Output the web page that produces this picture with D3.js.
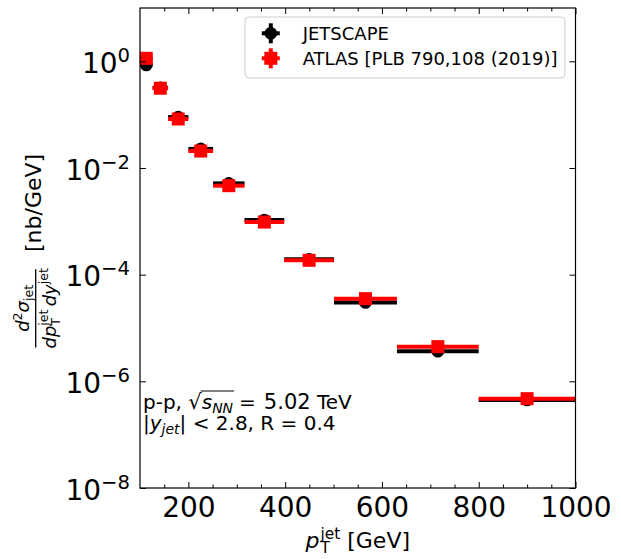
<!DOCTYPE html>
<html><head><meta charset="utf-8">
<script src="https://cdn.jsdelivr.net/npm/d3@7"></script>
<style>
html,body{margin:0;padding:0;background:#fff;}
svg{display:block;font-family:"DejaVu Sans",sans-serif;}
</style></head>
<body>
<svg id="chart" width="621" height="559"></svg>
<script>
// ---------- data ----------
const binLow  = [100, 126, 158, 200, 251, 316, 398, 501, 631, 800];
const binHigh = [126, 158, 200, 251, 316, 398, 501, 631, 800, 1000];
const xCenter = [113, 142, 179, 225.5, 283.5, 357, 449.5, 566, 715.5, 900];
const atlasY     = [1.14, 0.313, 0.083, 0.0208, 0.00466, 9.7e-4, 1.86e-4, 3.55e-5, 4.47e-6, 4.73e-7];
const jetscapeY  = [0.855, 0.32, 0.090, 0.0228, 0.00515, 1.06e-3, 1.94e-4, 3.0e-5, 3.66e-6, 4.47e-7];
const xMajorTicks = [200, 400, 600, 800, 1000];
const xMinorTicks = [150, 250, 300, 350, 450, 500, 550, 650, 700, 750, 850, 900, 950];
const yMajorTicks = [1, 1e-2, 1e-4, 1e-6, 1e-8];
const yTickExp = ["0", "\u22122", "\u22124", "\u22126", "\u22128"];
const legendLabels = ["JETSCAPE", "ATLAS [PLB 790,108 (2019)]"];

// ---------- layout ----------
const L = 140, R = 575.5, T = 8, B = 488;
const svg = d3.select("#chart");
const x = d3.scaleLinear().domain([100, 1000]).range([L, R]);
const y = d3.scaleLog().domain([1e-8, 10]).range([B, T]);

// plot data
const gData = svg.append("g");
function drawSeries(vals, color, shape) {
  gData.append("g").selectAll("line").data(vals).join("line")
    .attr("x1", (d, i) => x(binLow[i])).attr("x2", (d, i) => x(binHigh[i]))
    .attr("y1", d => y(d)).attr("y2", d => y(d))
    .attr("stroke", color).attr("stroke-width", 4);
  if (shape === "circle") {
    gData.append("g").selectAll("circle").data(vals).join("circle")
      .attr("cx", (d, i) => x(xCenter[i])).attr("cy", d => y(d)).attr("r", 6.3)
      .attr("fill", color);
  } else {
    gData.append("g").selectAll("rect").data(vals).join("rect")
      .attr("x", (d, i) => x(xCenter[i]) - 6.5).attr("y", d => y(d) - 6.5)
      .attr("width", 13).attr("height", 13).attr("fill", color);
  }
}
drawSeries(jetscapeY, "#000", "circle");
drawSeries(atlasY, "#ff0000", "square");

// axes ticks
function styleAxis(g) { g.select(".domain").remove(); g.selectAll("line").attr("stroke", "#000").attr("stroke-width", 1); }
const fontTick = 28;
svg.append("g").attr("transform", `translate(0,${B})`)
  .call(d3.axisBottom(x).tickValues(xMajorTicks).tickSizeInner(-6).tickSizeOuter(0).tickPadding(8.8).tickFormat(d3.format("d")))
  .call(styleAxis)
  .call(g => g.selectAll("text").attr("font-size", fontTick).attr("font-family", "DejaVu Sans").attr("fill", "#000"));
svg.append("g").attr("transform", `translate(0,${B})`)
  .call(d3.axisBottom(x).tickValues(xMinorTicks).tickSizeInner(-3.5).tickSizeOuter(0).tickFormat(""))
  .call(styleAxis);
svg.append("g").attr("transform", `translate(0,${T})`)
  .call(d3.axisTop(x).tickValues(xMajorTicks).tickSizeInner(-6).tickSizeOuter(0).tickFormat(""))
  .call(styleAxis);
svg.append("g").attr("transform", `translate(0,${T})`)
  .call(d3.axisTop(x).tickValues(xMinorTicks).tickSizeInner(-3.5).tickSizeOuter(0).tickFormat(""))
  .call(styleAxis);
svg.append("g").attr("transform", `translate(${L},0)`)
  .call(d3.axisLeft(y).tickValues(yMajorTicks).tickSizeInner(-6).tickSizeOuter(0).tickFormat(""))
  .call(styleAxis);
svg.append("g").attr("transform", `translate(${R},0)`)
  .call(d3.axisRight(y).tickValues(yMajorTicks).tickSizeInner(-6).tickSizeOuter(0).tickFormat(""))
  .call(styleAxis);

// y tick labels 10^n
yMajorTicks.forEach((v, i) => {
  const t = svg.append("text").attr("x", 130).attr("y", y(v) + 11.5)
    .attr("text-anchor", "end").attr("font-size", fontTick).attr("fill", "#000");
  t.append("tspan").text("10");
  t.append("tspan").attr("font-size", 19.6).attr("dy", -11).text(yTickExp[i]);
});

// frame
svg.append("rect").attr("x", L).attr("y", T).attr("width", R - L).attr("height", B - T)
  .attr("fill", "none").attr("stroke", "#000").attr("stroke-width", 1.2);

// ---------- math layout helper ----------
function layout(g, pieces) {
  let cur = 0, i = 0;
  const mk = p => g.append("text").attr("font-size", p.size).attr("font-style", p.it ? "italic" : "normal")
      .attr("y", p.dy || 0).attr("fill", "#000").text(p.t);
  while (i < pieces.length) {
    const p = pieces[i];
    const t = mk(p);
    const w = t.node().getComputedTextLength();
    t.attr("x", cur + (p.dx || 0));
    if (p.stack) {
      const p2 = pieces[i + 1];
      const t2 = mk(p2);
      const w2 = t2.node().getComputedTextLength();
      t2.attr("x", cur + (p2.dx || 0));
      cur += Math.max(w + (p.dx || 0), w2 + (p2.dx || 0));
      i += 2;
    } else {
      cur += w + (p.dx || 0) + (p.after || 0);
      i++;
    }
  }
  return cur;
}

// x label
{
  const g = svg.append("g");
  const w = layout(g, [
    {t: "p", size: 22, it: true},
    {t: "jet", size: 15.4, dy: -9, dx: 1, stack: true},
    {t: "T", size: 15.4, dy: 5, dx: 1},
    {t: "\u00a0[GeV]", size: 22}
  ]);
  g.attr("transform", `translate(${(L + R) / 2 - w / 2},548)`);
}

// y label (rotated fraction)
{
  const rot = svg.append("g").attr("transform", "rotate(-90)");
  const num = rot.append("g");
  const wn = layout(num, [
    {t: "d", size: 18, it: true},
    {t: "2", size: 12.6, dy: -7},
    {t: "σ", size: 18, it: true},
    {t: "jet", size: 12.6, dy: 4}
  ]);
  const den = rot.append("g");
  const wd = layout(den, [
    {t: "dp", size: 18, it: true},
    {t: "jet", size: 12.6, dy: -8, stack: true},
    {t: "T", size: 12.6, dy: 4},
    {t: "\u00a0", size: 10},
    {t: "dy", size: 18, it: true},
    {t: "jet", size: 12.6, dy: -8}
  ]);
  const cu = -308.3;
  num.attr("transform", `translate(${cu - wn / 2},29)`);
  den.attr("transform", `translate(${cu - wd / 2},56)`);
  rot.append("line").attr("x1", -347.5).attr("x2", -269.3).attr("y1", 35.7).attr("y2", 35.7)
    .attr("stroke", "#000").attr("stroke-width", 1.3);
  rot.append("text").attr("x", -252).attr("y", 40.5).attr("font-size", 22).attr("fill", "#000").text("[nb/GeV]");
}

// annotation
{
  const g1 = svg.append("g").attr("transform", "translate(143,409)");
  let w0 = layout(g1, [{t: "p-p,\u00a0", size: 20}]);
  const gs = g1.append("g").attr("transform", `translate(${w0},0)`);
  const wr = layout(gs, [{t: "\u221a", size: 21}]);
  const gi = g1.append("g").attr("transform", `translate(${w0 + wr},0)`);
  const wi = layout(gi, [{t: "s", size: 20, it: true}, {t: "NN", size: 14, it: true, dy: 4}]);
  g1.append("line").attr("x1", w0 + wr - 1).attr("x2", w0 + wr + wi + 1).attr("y1", -18).attr("y2", -18)
    .attr("stroke", "#000").attr("stroke-width", 1.1);
  const gr = g1.append("g").attr("transform", `translate(${w0 + wr + wi},0)`);
  layout(gr, [
    {t: "=", size: 20, dx: 6, after: 6},
    {t: "5.02", size: 21, dx: 2},
    {t: "\u00a0TeV", size: 20}
  ]);

  const g2 = svg.append("g").attr("transform", "translate(143,430)");
  layout(g2, [
    {t: "|", size: 20},
    {t: "y", size: 20, it: true},
    {t: "jet", size: 14, it: true, dy: 4},
    {t: "|", size: 20},
    {t: "\u00a0<\u00a02.8, R = 0.4", size: 20}
  ]);
}

// legend
{
  const g = svg.append("g");
  g.append("rect").attr("x", 245).attr("y", 17).attr("width", 320).attr("height", 61).attr("rx", 4)
    .attr("fill", "#fff").attr("fill-opacity", 0.8).attr("stroke", "#cccccc").attr("stroke-width", 1);
  const rows = [{c: "#000", shape: "circle", y: 33.3}, {c: "#ff0000", shape: "square", y: 58.3}];
  rows.forEach((r, i) => {
    const cx = 270.8;
    g.append("line").attr("x1", cx - 9).attr("x2", cx + 9).attr("y1", r.y).attr("y2", r.y).attr("stroke", r.c).attr("stroke-width", 4);
    g.append("line").attr("x1", cx).attr("x2", cx).attr("y1", r.y - 10).attr("y2", r.y + 10).attr("stroke", r.c).attr("stroke-width", 4);
    if (r.shape === "circle") g.append("circle").attr("cx", cx).attr("cy", r.y).attr("r", 6.3).attr("fill", r.c);
    else g.append("rect").attr("x", cx - 6.5).attr("y", r.y - 6.5).attr("width", 13).attr("height", 13).attr("fill", r.c);
    g.append("text").attr("x", 302.7).attr("y", r.y + 6.5).attr("font-size", 18).attr("fill", "#000").text(legendLabels[i]);
  });
}
</script>
</body></html>
